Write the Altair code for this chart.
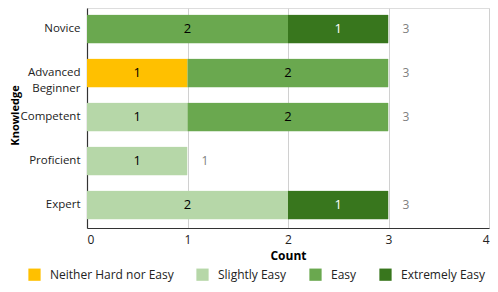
import altair as alt
import pandas as pd

knowledge = ["Novice", "Advanced Beginner", "Competent", "Proficient", "Expert"]
ratings = ["Neither Hard nor Easy", "Slightly Easy", "Easy", "Extremely Easy"]
colors = ["#FFC000", "#B6D7A8", "#6AA84F", "#38761D"]

neither = [0, 1, 0, 0, 0]
slightly = [0, 0, 1, 1, 2]
easy = [2, 2, 2, 0, 0]
extremely = [1, 0, 0, 0, 1]

rows = []
for i, k in enumerate(knowledge):
    for j, (r, vals) in enumerate(zip(ratings, [neither, slightly, easy, extremely])):
        if vals[i] > 0:
            rows.append({"Knowledge": k, "Rating": r, "Count": vals[i], "ord": j})
df = pd.DataFrame(rows)

FONT = "Open Sans"

base = alt.Chart(df)

y_enc = alt.Y(
    "Knowledge:N",
    sort=knowledge,
    scale=alt.Scale(paddingInner=0.34, paddingOuter=0.17, align=0.43),
    axis=alt.Axis(
        title="Knowledge",
        titleFont=FONT, titleFontSize=11, titleFontWeight="bold", titleColor="#000",
        titleAngle=-90, titleX=-72, titleY=107, titleBaseline="middle", titleAlign="center",
        labelFont=FONT, labelFontSize=11.5, labelColor="#222",
        labelExpr="split(datum.label, ' ')", labelLineHeight=16,
        ticks=False, labelPadding=7, domainColor="#333", domainWidth=1.2,
        grid=False,
    ),
)

bars = base.mark_bar(cornerRadius=1).encode(
    x=alt.X(
        "Count:Q",
        stack="zero",
        scale=alt.Scale(domain=[0, 4]),
        axis=alt.Axis(
            title="Count", values=[0, 1, 2, 3, 4], format="d",
            titleFont=FONT, titleFontSize=12, titleFontWeight="bold", titleColor="#000",
            titlePadding=5,
            labelFont=FONT, labelFontSize=12, labelColor="#222", labelPadding=6,
            ticks=False, domainColor="#333", domainWidth=1.2,
            grid=True, gridColor="#d0d0d0", gridWidth=1,
        ),
    ),
    y=y_enc,
    color=alt.Color(
        "Rating:N",
        scale=alt.Scale(domain=ratings, range=colors),
        legend=alt.Legend(
            title=None, orient="none", legendX=-59, legendY=260,
            direction="horizontal", columns=4, columnPadding=22,
            symbolType="square", symbolSize=150, symbolStrokeWidth=0,
            labelFont=FONT, labelFontSize=12, labelColor="#222", labelOffset=9,
        ),
    ),
    order=alt.Order("ord:Q"),
)

labels = base.transform_stack(
    stack="Count", groupby=["Knowledge"], sort=[alt.SortField("ord")], as_=["x0", "x1"]
).transform_calculate(
    mid="(datum.x0 + datum.x1) / 2",
    tc="datum.Rating == 'Extremely Easy' ? 'white' : 'black'",
).mark_text(font=FONT, fontSize=13, baseline="middle").encode(
    x="mid:Q",
    y=alt.Y("Knowledge:N", sort=knowledge),
    text="Count:Q",
    color=alt.Color("tc:N", scale=None),
)

totals = base.transform_aggregate(
    total="sum(Count)", groupby=["Knowledge"]
).mark_text(font=FONT, fontSize=12, color="#808080", align="left", dx=14, baseline="middle").encode(
    x="total:Q",
    y=alt.Y("Knowledge:N", sort=knowledge),
    text="total:Q",
)

chart = alt.layer(bars, labels, totals).properties(
    width=402, height=220,
    autosize=alt.AutoSizeParams(type="none"),
    padding={"left": 79, "top": 0, "right": 1, "bottom": 56},
).configure_view(stroke=None).configure(background="white")

chart.save("out.html", embed_options={"renderer": "svg", "actions": False})
